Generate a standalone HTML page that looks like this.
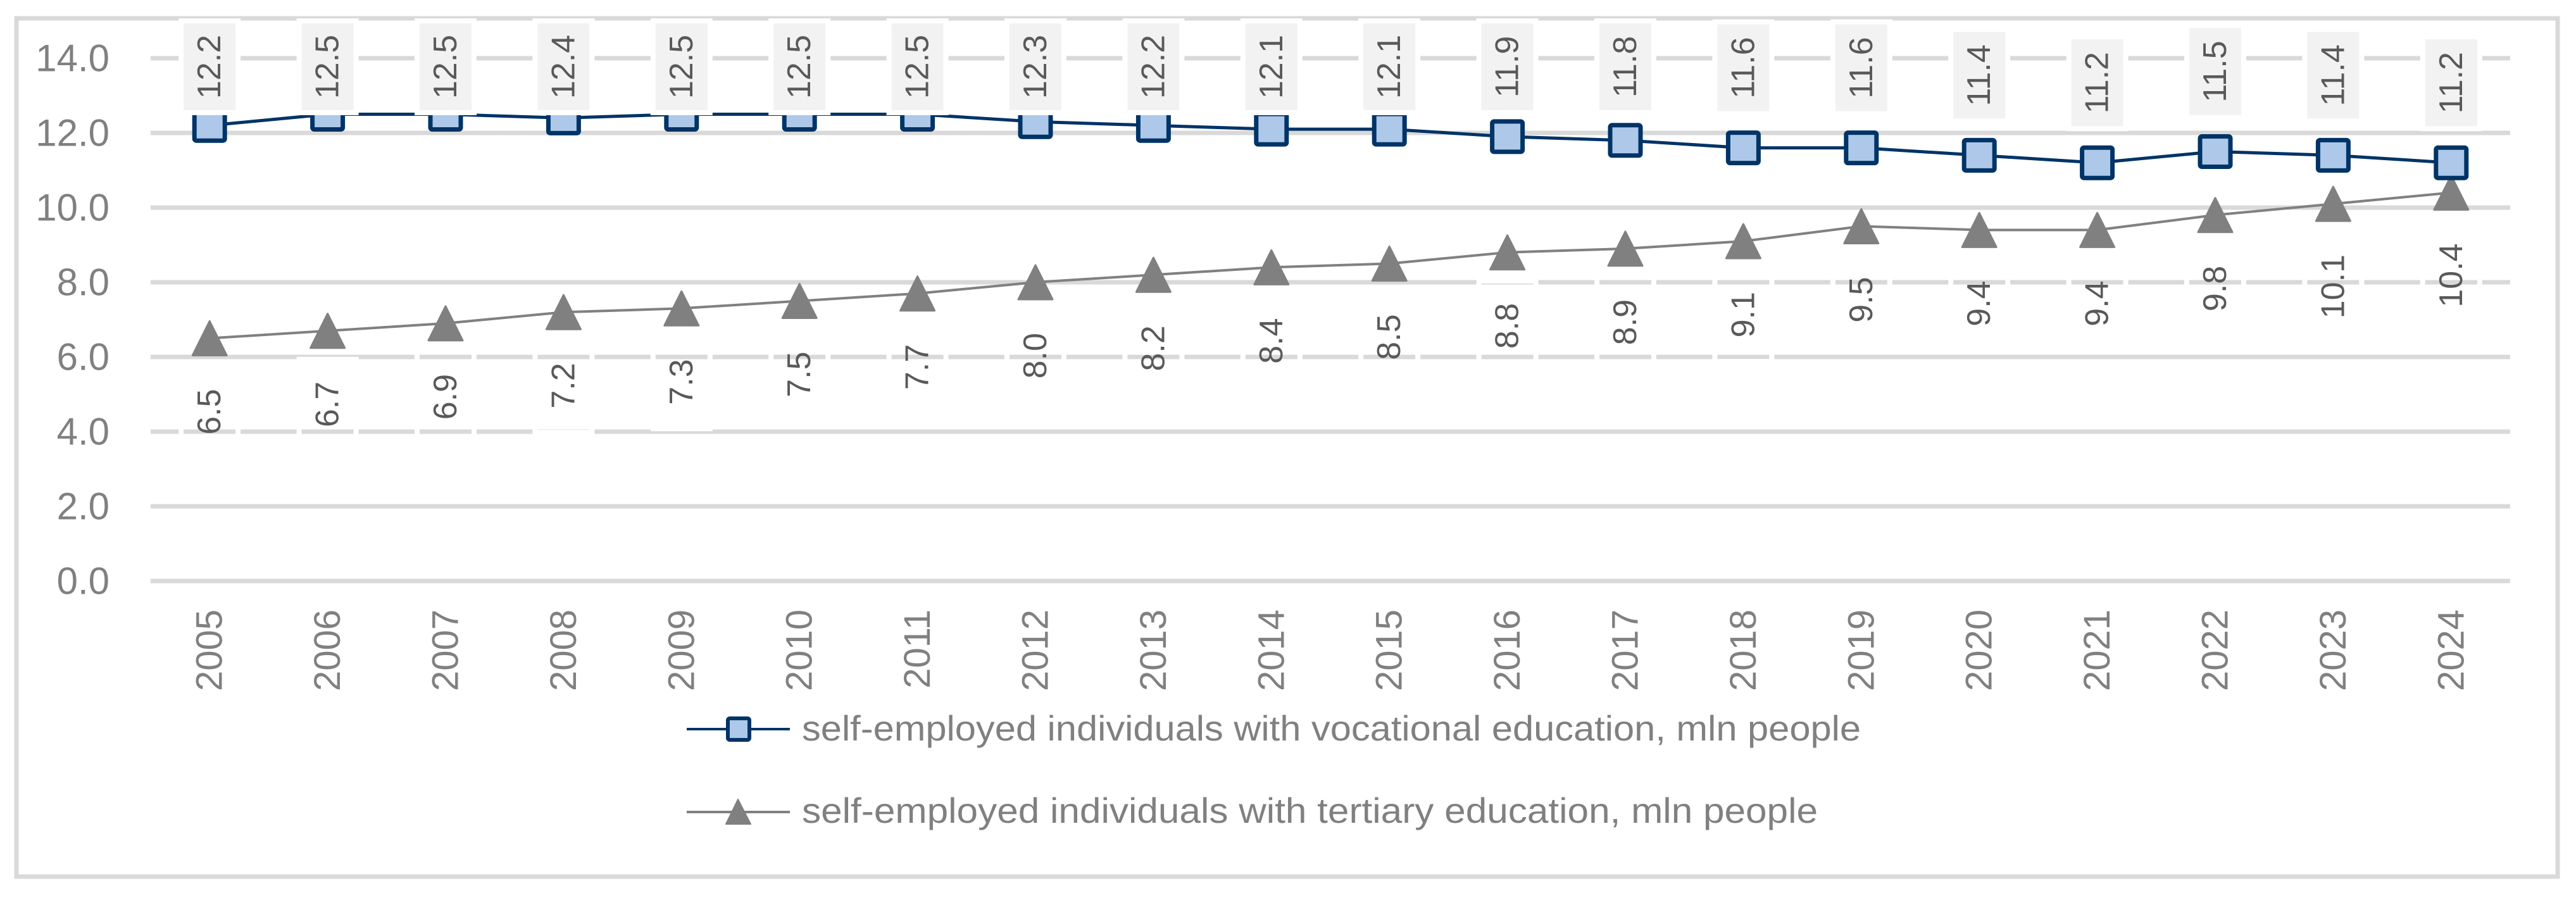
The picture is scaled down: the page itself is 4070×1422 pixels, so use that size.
<!DOCTYPE html>
<html><head><meta charset="utf-8"><style>
html,body{margin:0;padding:0;background:#fff;}
svg{display:block;font-family:"Liberation Sans",sans-serif;}
</style></head><body>
<svg id="chart" width="4070" height="1422" viewBox="0 0 4070 1422" xmlns="http://www.w3.org/2000/svg">
<rect x="26" y="29" width="4015" height="1356" fill="#fff" stroke="#d9d9d9" stroke-width="7"/>
<g id="grid"></g><g id="yaxis"></g><g id="xaxis"></g><g id="series"></g><g id="labels"></g>
<g>
 <g>
  <line x1="1085" y1="1152" x2="1248" y2="1152" stroke="#003366" stroke-width="4"/>
  <rect x="1150" y="1135" width="34" height="34" rx="3" fill="#adc8e9" stroke="#003366" stroke-width="6"/>
  <text x="1267" y="1170" font-size="56" fill="#808080" textLength="1673" lengthAdjust="spacingAndGlyphs">self-employed individuals with vocational education, mln people</text>
 </g>
 <g>
  <line x1="1085" y1="1283" x2="1248" y2="1283" stroke="#808080" stroke-width="4"/>
  <polygon points="1166,1263 1186,1302 1147,1302" fill="#808080" stroke="#808080" stroke-width="2" stroke-linejoin="round"/>
  <text x="1267" y="1300" font-size="56" fill="#808080" textLength="1605" lengthAdjust="spacingAndGlyphs">self-employed individuals with tertiary education, mln people</text>
 </g>
</g>
</svg>
<script>
const years = ["2005","2006","2007","2008","2009","2010","2011","2012","2013","2014","2015","2016","2017","2018","2019","2020","2021","2022","2023","2024"];
const vocational = [12.2,12.5,12.5,12.4,12.5,12.5,12.5,12.3,12.2,12.1,12.1,11.9,11.8,11.6,11.6,11.4,11.2,11.5,11.4,11.2];
const tertiary = [6.5,6.7,6.9,7.2,7.3,7.5,7.7,8.0,8.2,8.4,8.5,8.8,8.9,9.1,9.5,9.4,9.4,9.8,10.1,10.4];
const yTicks = [0,2,4,6,8,10,12,14];

const NS="http://www.w3.org/2000/svg";
const L=238,R=3966,Y0=918,Y14=92,YMAX=14;
const band=(R-L)/years.length;
const x=i=>L+band*(i+0.5);
const y=v=>Y0-(Y0-Y14)*v/YMAX;
function mk(tag,attrs,parent,txt){const e=document.createElementNS(NS,tag);for(const k in attrs)e.setAttribute(k,attrs[k]);if(txt!==undefined)e.textContent=txt;parent.appendChild(e);return e;}
const g=id=>document.getElementById(id);

yTicks.forEach(t=>{
  const ln=mk('line',{x1:L,x2:R,y1:y(t),y2:y(t),stroke:'#d9d9d9','stroke-width':7},g('grid'));
  
  
  const tx=mk('text',{x:173,y:y(t),'text-anchor':'end','dominant-baseline':'central','font-size':60,fill:'#808080'},g('yaxis'),t.toFixed(1));
  
  
});
years.forEach((yr,i)=>{
  const tx=mk('text',{x:0,y:0,transform:`translate(${x(i)},963) rotate(-90)`,'text-anchor':'end','dominant-baseline':'central','font-size':58,fill:'#808080'},g('xaxis'),yr);
  
  
});
// lines
const p1=mk('polyline',{points:vocational.map((v,i)=>x(i)+','+y(v)).join(' '),fill:'none',stroke:'#003366','stroke-width':5},g('series'));


const p2=mk('polyline',{points:tertiary.map((v,i)=>x(i)+','+y(v)).join(' '),fill:'none',stroke:'#808080','stroke-width':4},g('series'));


tertiary.forEach((v,i)=>{
  const cx=x(i),cy=y(v);
  const t=mk('polygon',{points:`${cx},${cy-27} ${cx+27},${cy+27} ${cx-27},${cy+27}`,fill:'#808080',stroke:'#808080','stroke-width':3,'stroke-linejoin':'round'},g('series'));
  
  
  const b=mk('rect',{x:cx-45,y:cy+45,width:90,height:145,fill:'none',stroke:'#fff','stroke-width':8},g('labels'));
  
  
  const tx=mk('text',{x:0,y:0,transform:`translate(${cx},${cy+80}) rotate(-90)`,'text-anchor':'end','dominant-baseline':'central','font-size':52,fill:'#595959'},g('labels'),v.toFixed(1));
  
  
});
vocational.forEach((v,i)=>{
  const cx=x(i),cy=y(v);
  const s=mk('rect',{x:cx-24,y:cy-24,width:48,height:48,rx:3,fill:'#adc8e9',stroke:'#003366','stroke-width':7},g('series'));
  
  
  const top=Math.max(33,cy-54-145);
  const b=mk('rect',{x:cx-45,y:top,width:90,height:145,fill:'#f2f2f2',stroke:'#fff','stroke-width':8},g('labels'));
  
  
  const tx=mk('text',{x:0,y:0,transform:`translate(${cx},${top+72.5}) rotate(-90)`,'text-anchor':'middle','dominant-baseline':'central','font-size':52,fill:'#595959'},g('labels'),v.toFixed(1));
  
  
});
</script>
</body></html>
